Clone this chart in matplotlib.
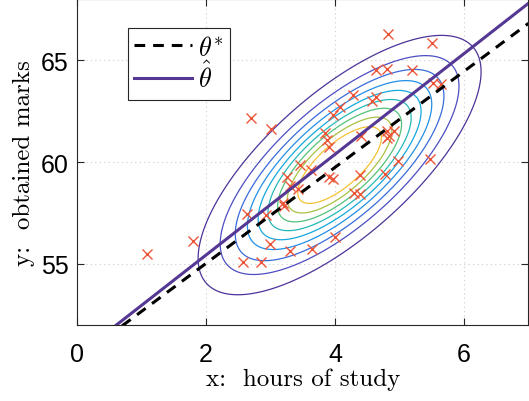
import numpy as np
import matplotlib
matplotlib.use("Agg")
import matplotlib.pyplot as plt

# ---- data ----
x_pts = [1.09, 1.79, 2.70, 3.00, 2.64, 2.57, 2.85, 2.99, 3.30, 2.93,
         3.19, 3.21, 3.30, 3.42, 3.26, 3.45, 3.62, 3.64, 4.00, 3.91,
         3.96, 4.30, 4.38, 4.38, 4.77, 4.97, 5.47, 3.85, 3.88, 3.91,
         3.96, 4.08, 4.28, 4.40, 4.57, 4.63, 4.63, 4.81, 5.19, 4.82,
         5.50, 5.52, 5.65, 4.81, 4.92, 4.83, 4.81]
y_pts = [55.50, 56.14, 62.17, 61.62, 57.45, 55.08, 55.08, 55.98, 55.65, 57.40,
         57.97, 57.84, 58.83, 58.70, 59.27, 59.83, 59.60, 55.75, 56.32, 59.27,
         59.19, 58.46, 58.41, 59.35, 59.43, 60.03, 60.16, 61.41, 61.09, 60.73,
         62.32, 62.68, 63.27, 61.27, 63.00, 63.21, 64.51, 64.57, 64.54, 66.29,
         65.84, 63.89, 63.81, 61.54, 61.54, 61.30, 61.17]

theta_star = [50.32, 2.355]   # intercept, slope
theta_hat = [50.50, 2.47]

mean = [4.07, 59.85]
sd = [1.0, 2.9]
rho = 0.72
level_fracs = [0.09, 0.18, 0.27, 0.36, 0.45, 0.54, 0.63, 0.72, 0.81]
level_colors = [(0.30, 0.20, 0.60), (0.30, 0.30, 0.76), (0.22, 0.42, 0.86),
                (0.14, 0.56, 0.90), (0.08, 0.66, 0.86), (0.14, 0.72, 0.72),
                (0.32, 0.76, 0.48), (0.66, 0.76, 0.26), (0.96, 0.76, 0.20)]

xlim = (0, 7)
ylim = (52, 68)
xticks = [0, 2, 4, 6]
yticks = [55, 60, 65]

# ---- style ----
plt.rcParams['mathtext.fontset'] = 'cm'

fig = plt.figure(figsize=(5.29, 4.02), dpi=100)
ax = fig.add_axes([0.146, 0.189, 0.853, 0.811])

gx = np.linspace(xlim[0], xlim[1], 300)
gy = np.linspace(ylim[0], ylim[1], 300)
GX, GY = np.meshgrid(gx, gy)
dx = (GX - mean[0]) / sd[0]
dy = (GY - mean[1]) / sd[1]
Q = (dx**2 - 2 * rho * dx * dy + dy**2) / (1 - rho**2)
Z = np.exp(-0.5 * Q)
ax.contour(GX, GY, Z, levels=level_fracs, colors=level_colors, linewidths=0.9, zorder=2)

ax.plot(x_pts, y_pts, 'x', color=(0.93, 0.33, 0.22), markersize=6.5,
        markeredgewidth=1.0, zorder=3)

xl = np.array(xlim)
ax.plot(xl, theta_star[0] + theta_star[1] * xl, '--', color='black', lw=2.2,
        dashes=(3.5, 2.6), label=r'$\theta^{*}$', zorder=4)
ax.plot(xl, theta_hat[0] + theta_hat[1] * xl, '-', color=(0.33, 0.22, 0.58), lw=2.2,
        label=r'$\hat{\theta}$', zorder=4)

ax.set_xlim(*xlim)
ax.set_ylim(*ylim)
ax.set_xticks(xticks)
ax.set_yticks(yticks)
ax.grid(True, linestyle=(0, (1, 3)), color=(0.8, 0.8, 0.8), linewidth=0.8)
ax.set_axisbelow(True)
for s in ax.spines.values():
    s.set_color((0.15, 0.15, 0.15))
    s.set_linewidth(0.8)
ax.tick_params(direction='in', top=True, right=True, length=5, width=0.8,
               color=(0.15, 0.15, 0.15), labelsize=18)
ax.tick_params(axis='x', pad=12)
ax.tick_params(axis='y', pad=6)
for lab in ax.get_xticklabels() + ax.get_yticklabels():
    lab.set_family('Liberation Sans')

ax.set_xlabel('x:  hours of study', fontsize=18, family='cmr10', labelpad=1)
ax.set_ylabel('y:  obtained marks', fontsize=18, family='cmr10', labelpad=4)

leg = ax.legend(loc='upper left', bbox_to_anchor=(0.112, 0.911), borderaxespad=0,
                fontsize=19, fancybox=False, framealpha=1, edgecolor=(0.15, 0.15, 0.15),
                handlelength=2.2, handletextpad=0.2, borderpad=0.25, labelspacing=0.05)
leg.get_frame().set_linewidth(0.8)

fig.savefig('out.png', dpi=100)
